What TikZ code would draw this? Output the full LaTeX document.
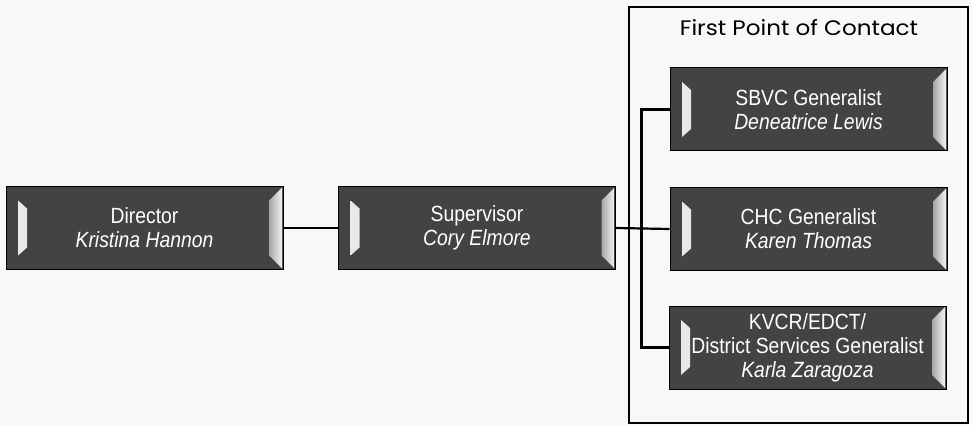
\documentclass[tikz,border=0pt]{standalone}
\usepackage{fontspec}
\newfontfamily\boxfont[FakeStretch=0.88]{Liberation Sans}
\newfontfamily\titlefont[FakeStretch=1.1]{Poppins}
\definecolor{boxgray}{HTML}{434343}
\definecolor{bggray}{HTML}{F8F8F8}
\tikzset{
  orgbox/.style={draw=black, line width=1pt, fill=boxgray,
    minimum width=277pt, minimum height=83pt, inner sep=0pt,
    text=white, align=center,
    font=\boxfont\fontsize{22}{24}\selectfont,
    path picture={
      \shade[left color=gray!15, right color=gray!60]
        ([xshift=12pt,yshift=-14pt]path picture bounding box.north west)
        -- ([xshift=21pt,yshift=-22pt]path picture bounding box.north west)
        -- ([xshift=21pt,yshift=22pt]path picture bounding box.south west)
        -- ([xshift=12pt,yshift=14pt]path picture bounding box.south west) -- cycle;
      \shade[left color=gray!70, right color=gray!10]
        ([xshift=-1pt,yshift=-1pt]path picture bounding box.north east)
        -- ([xshift=-1pt,yshift=1pt]path picture bounding box.south east)
        -- ([xshift=-14pt,yshift=14pt]path picture bounding box.south east)
        -- ([xshift=-14pt,yshift=-14pt]path picture bounding box.north east) -- cycle;
    }},
  link/.style={draw=black, line width=2.2pt},
  groupbox/.style={draw=black, line width=1.4pt, minimum width=339pt, minimum height=416pt, inner sep=0pt}
}
\begin{document}
\begin{tikzpicture}[x=1pt,y=-1pt]
  \fill[bggray] (0,0) rectangle (972,425);
  \useasboundingbox (0,0) rectangle (972,425);
  \node[groupbox] (group) at (798.5,215) {};
  \node[font=\titlefont\fontsize{21}{24}\selectfont, anchor=base] (title) at (799,36) {First Point of Contact};
  \node[orgbox] (dir) at (144.5,228) {Director\\\textit{Kristina Hannon}};
  \node[orgbox] (sup) at (477,228) {Supervisor\\\textit{Cory Elmore}};
  \node[orgbox] (sbvc) at (808.5,109.5) {SBVC Generalist\\\textit{Deneatrice Lewis}};
  \node[orgbox] (chc) at (808.5,229) {CHC Generalist\\\textit{Karen Thomas}};
  \node[orgbox] (kvcr) at (807.5,347.5) {KVCR/EDCT/\\District Services Generalist\\\textit{Karla Zaragoza}};
  \draw[link] (dir.east) -- (sup.west);
  \draw[link] (sup.east) -- (chc.west);
  \draw[link] (sbvc.west) -- ++(-28,0) |- (kvcr.west);
\end{tikzpicture}
\end{document}
